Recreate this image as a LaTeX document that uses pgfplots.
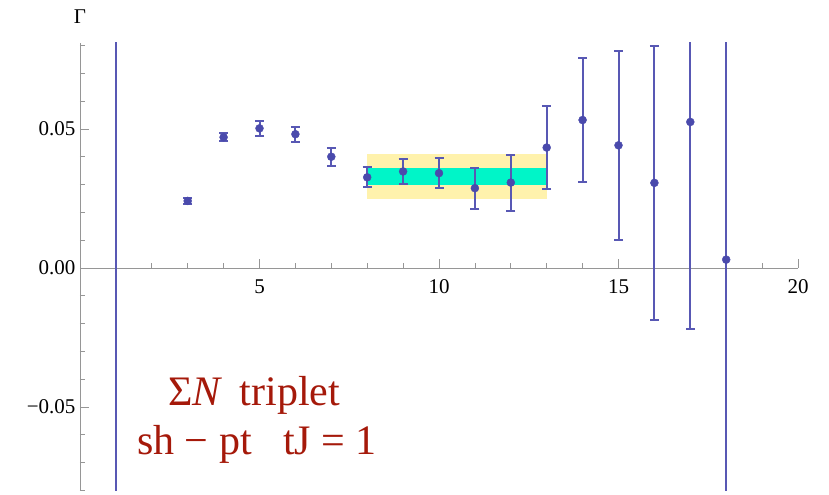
\documentclass[border=0pt]{standalone}
\usepackage{pgfplots}
\usepackage{pgfplotstable}
\pgfplotsset{compat=1.18}
\usepackage{fontspec}
\setmainfont{Liberation Serif}
\definecolor{ptcol}{RGB}{74,74,172}
\definecolor{barcol}{RGB}{88,88,180}
\definecolor{yband}{RGB}{255,242,172}
\definecolor{cband}{RGB}{0,245,200}
\definecolor{txtred}{RGB}{165,25,10}
\definecolor{axgray}{RGB}{150,150,150}
\pgfplotstableread{
x  y       e
3  0.0241  0.0012
4  0.0470  0.0015
5  0.0502  0.0026
6  0.0481  0.0027
7  0.0400  0.0033
8  0.0326  0.0036
9  0.0347  0.0044
10 0.0341  0.0055
11 0.0287  0.0074
12 0.0307  0.0101
13 0.0433  0.0150
14 0.0532  0.0224
15 0.0441  0.0340
16 0.0306  0.0493
17 0.0525  0.0744
18 0.0030  0.3000
}\data
\begin{document}
\begin{tikzpicture}
\begin{axis}[
  scale only axis,
  width=718bp, height=448bp,
  at={(0,0)}, anchor=south west,
  xmin=0, xmax=20, ymin=-0.0802, ymax=0.0809,
  axis x line=middle, axis y line=left,
  axis line style={-, axgray, line width=0.8bp},
  hide obscured x ticks=false, hide obscured y ticks=false,
  scaled y ticks=false, scaled x ticks=false,
  xtick={5,10,15,20}, minor xtick={1,2,3,4,6,7,8,9,11,12,13,14,16,17,18,19},
  ytick={-0.05,0,0.05}, minor ytick={-0.08,-0.07,-0.06,-0.04,-0.03,-0.02,-0.01,0.01,0.02,0.03,0.04,0.06,0.07,0.08},
  yticklabels={−0.05,0.00,0.05},
  xticklabels={5,10,15,20},
  tick style={axgray, line width=0.7bp},
  major tick length=9bp, minor tick length=5bp,
  xtick align=inside, ytick align=inside,
  tick label style={font=\fontsize{21bp}{24bp}\selectfont, text=black},
  xticklabel style={yshift=-8bp},
  yticklabel style={xshift=-1bp},
  ylabel={Γ},
  every axis y label/.style={at={(axis description cs:0,1)}, anchor=center, yshift=26bp, font=\fontsize{21bp}{24bp}\selectfont},
  /pgf/number format/assume math mode=true,
  clip=true,
  every error bar/.append style={line width=2bp, barcol},
]
% bands
\addplot[fill=yband, draw=none] coordinates {(8,0.0248) (13,0.0248) (13,0.0410) (8,0.0410)} -- cycle;
\addplot[fill=cband, draw=none] coordinates {(8,0.0299) (13,0.0299) (13,0.0360) (8,0.0360)} -- cycle;
% x=1 point lies outside the range: error bar only
\addplot[draw=none, mark=none, barcol,
  error bars/.cd, y dir=both, y explicit,
  error mark options={draw=none}]
  coordinates {(1,0.20) +- (0,0.5)};
% error bars
\addplot[draw=none, mark=none, barcol,
  error bars/.cd, y dir=both, y explicit,
  error mark options={rotate=90, mark size=4.5bp, line width=2bp, draw=barcol}]
  table[x=x, y=y, y error=e] {\data};
% points
\addplot[only marks, ptcol, mark=*, mark size=4bp, mark options={fill=ptcol, draw=none}]
  table[x=x, y=y] {\data};
\node[anchor=base, text=txtred, font=\fontsize{42bp}{48bp}\selectfont] at (axis cs:4.85,-0.0496) {Σ\textit{N}\, triplet};
\node[anchor=base, text=txtred, font=\fontsize{42bp}{48bp}\selectfont] at (axis cs:4.93,-0.0669) {sh − pt\enspace\ tJ = 1};
\end{axis}
\path (-80bp,-4bp) rectangle (749bp,491bp);
\end{tikzpicture}
\end{document}
